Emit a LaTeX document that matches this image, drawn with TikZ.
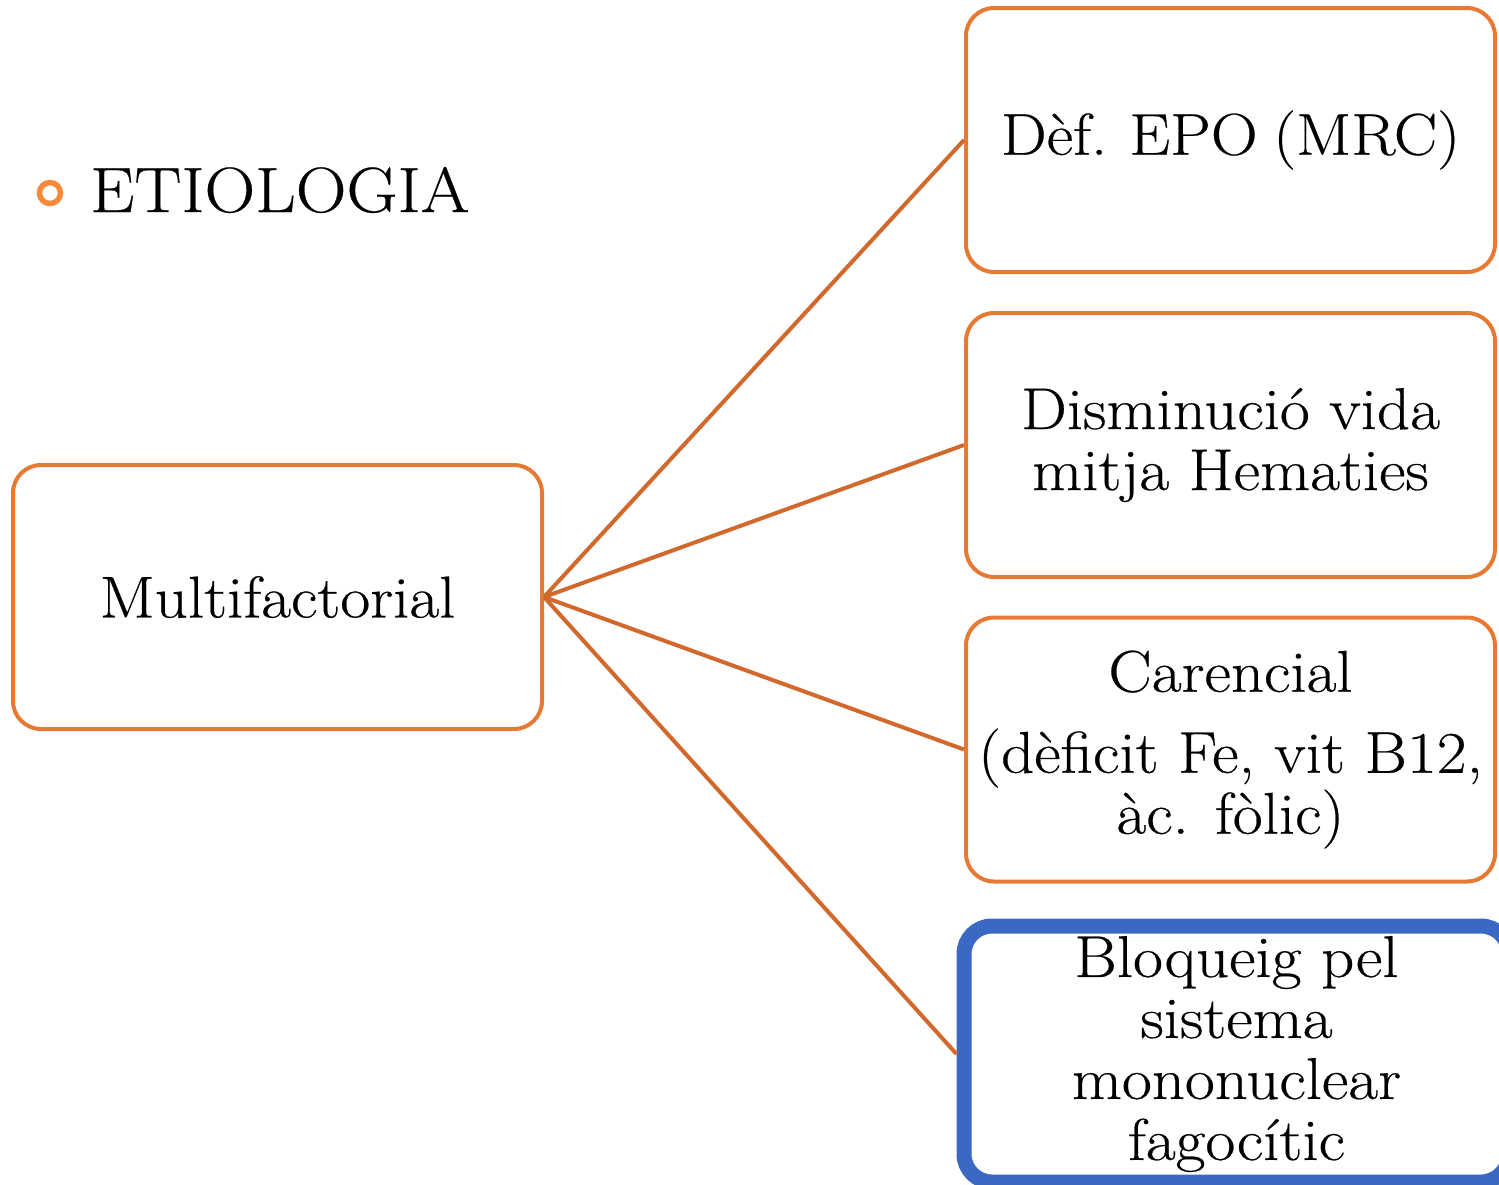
\documentclass[tikz,border=0pt]{standalone}
\usepackage{fontspec}
\setmainfont{Latin Modern Roman}[FakeStretch=1.1, FakeBold=0.4]
\definecolor{boxorange}{HTML}{E67A35}
\definecolor{lineorange}{HTML}{D2692C}
\definecolor{bulletorange}{HTML}{F58A3A}
\definecolor{hiblue}{HTML}{3B68C4}
\tikzset{
  causebox/.style={draw=boxorange, line width=4pt, rounded corners=28pt, fill=white,
    minimum width=529pt, minimum height=264pt, align=center,
    font=\fontsize{59}{61}\selectfont, inner sep=0pt},
  link/.style={draw=lineorange, line width=4pt},
}
\begin{document}
\begin{tikzpicture}[x=1pt, y=-1pt]
  \useasboundingbox (0,0) rectangle (1499,1184);

  % heading with ring bullet
  \node[circle, draw=bulletorange, line width=5.5pt, minimum size=21pt, inner sep=0pt] (bullet) at (50,193) {};
  \node[anchor=base west, inner sep=0pt, font=\fontsize{64}{70}\selectfont] (title) at (90,212) {ETIOLOGIA};

  % root box
  \node[causebox] (multi) at (277.5,597) {Multifactorial};

  % cause boxes
  \node[causebox] (epo) at (1230.5,140) {Dèf.\hspace{-4pt} EPO\hspace{-4pt} (MRC)};
  \node[causebox] (vida) at (1230.5,445) {Disminució vida\\mitja Hematies};
  \node[causebox] (caren) at (1230.5,749.5) {Carencial\\[20pt](dèficit Fe, vit B12,\\àc. fòlic)};
  \node[causebox] (bloq) at (1230.5,1054) {};
  \node[causebox, draw=hiblue, line width=15pt, minimum width=545pt, minimum height=256pt]
    (bloqhi) at (1236.5,1054) {Bloqueig pel\\sistema\\mononuclear\\fagocític};

  % connectors
  \draw[link] (multi.east) -- (epo.west);
  \draw[link] (multi.east) -- (vida.west);
  \draw[link] (multi.east) -- (caren.west);
  \draw[link] (multi.east) -- (bloqhi.west);
\end{tikzpicture}
\end{document}
